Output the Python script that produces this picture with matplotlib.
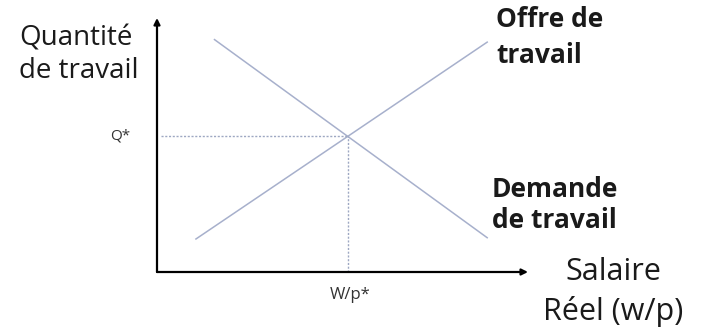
import matplotlib.pyplot as plt

# labour market curves, arbitrary units (0..10 on both axes)
demand_x = [1.55, 8.9]
demand_y = [9.15, 1.35]
supply_x = [1.05, 8.9]
supply_y = [1.3, 9.05]
w_eq = 5.15
q_eq = 5.35

y_label = ["Quantité", "de travail"]
x_label = ["Salaire", "Réel (w/p)"]
supply_label = ["Offre de", "travail"]
demand_label = ["Demande", "de travail"]
q_tick = "Q*"
w_tick = "W/p*"

plt.rcParams['font.family'] = ['Open Sans', 'DejaVu Sans']

W, H = 703, 329
fig = plt.figure(figsize=(W / 100, H / 100), dpi=100)
ax = fig.add_axes([157 / W, 57 / H, 371 / W, 254 / H])
ax.set_xlim(0, 10)
ax.set_ylim(0, 10)
ax.axis('off')

curve_col = '#a7b0cc'
ax.plot(demand_x, demand_y, color=curve_col, lw=1.1)
ax.plot(supply_x, supply_y, color=curve_col, lw=1.1)

# equilibrium guides
ax.plot([0.1, w_eq], [q_eq, q_eq], color='#9ea8c2', lw=1.0, ls=(0, (1.5, 1.2)))
ax.plot([w_eq, w_eq], [0, q_eq], color='#9ea8c2', lw=1.0, ls=(0, (1.5, 1.2)))

# axes arrows
arrow = dict(arrowstyle='-|>', color='black', lw=1.6, mutation_scale=9,
             shrinkA=0, shrinkB=0)
ax.annotate('', xy=(0, 1.0), xytext=(0, 0), xycoords='axes fraction', arrowprops=arrow)
ax.annotate('', xy=(1.0, 0), xytext=(0, 0), xycoords='axes fraction', arrowprops=arrow)

ax.text(-1.0, q_eq, q_tick, ha='center', va='center', fontsize=11, color='#333333')
ax.text(w_eq + 0.05, -0.9, w_tick, ha='center', va='center', fontsize=12, color='#333333')


def put_lines(lines, x, baselines, ha='left', **kw):
    # one text per line so baselines land where the reference has them
    for s, b in zip(lines, baselines):
        fig.text(x / W, 1 - b / H, s, ha=ha, va='baseline', color='#1a1a1a', **kw)


put_lines(y_label, 19, [45, 78], fontsize=20)
put_lines(x_label, 613, [280, 320], ha='center', fontsize=22)
put_lines(supply_label, 496, [27, 63], fontsize=19, fontweight='bold')
put_lines(demand_label, 492, [197, 228], fontsize=19, fontweight='bold')

fig.savefig('out.png', dpi=100)
